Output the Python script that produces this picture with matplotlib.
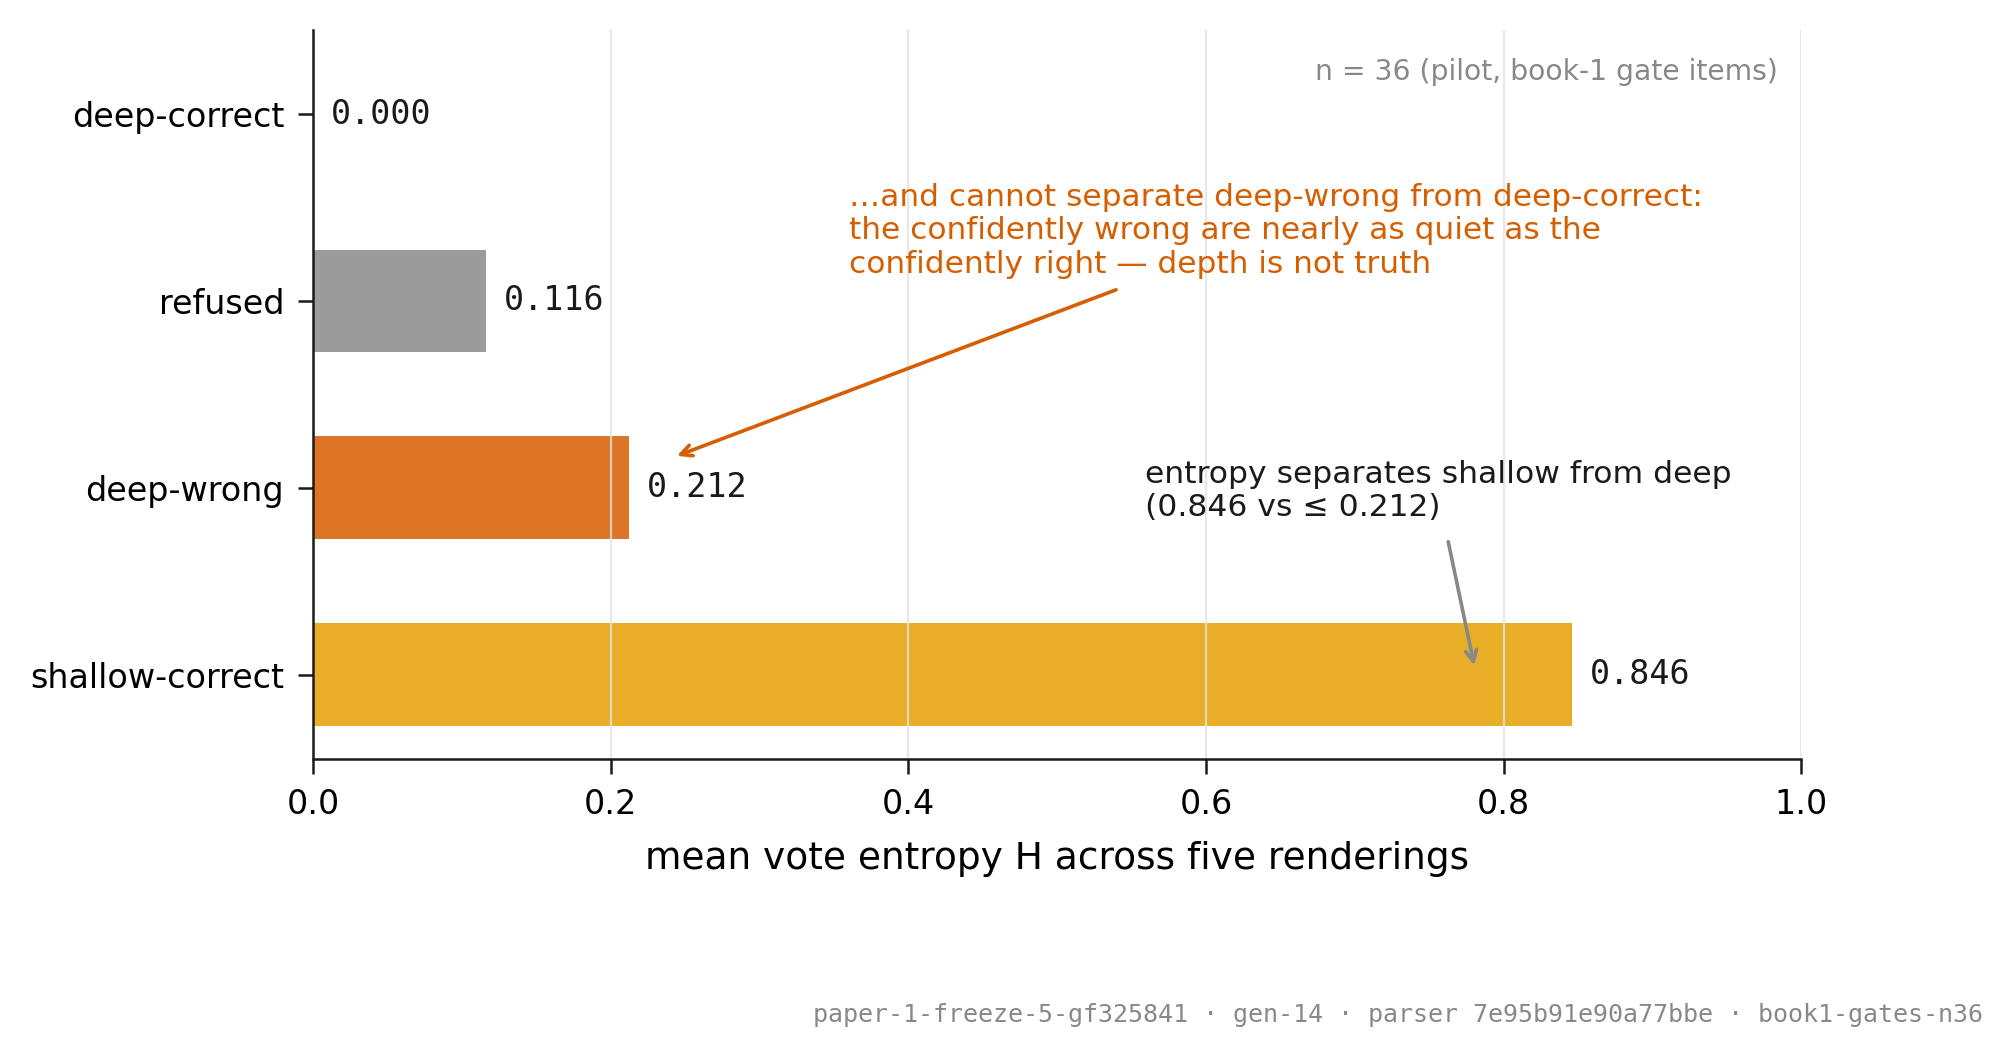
import matplotlib
matplotlib.use('Agg')
import matplotlib.pyplot as plt

# 数据
categories = ["shallow-correct", "deep-wrong", "refused", "deep-correct"]
entropy = [0.846, 0.212, 0.116, 0.000]
colors = ["#E8AE28", "#DC7626", "#9B9B9B", "#4C72B0"]
xticks = [0.0, 0.2, 0.4, 0.6, 0.8, 1.0]

note_orange = ("…and cannot separate deep-wrong from deep-correct:\n"
               "the confidently wrong are nearly as quiet as the\n"
               "confidently right — depth is not truth")
note_gray = "entropy separates shallow from deep\n(0.846 vs ≤ 0.212)"
n_note = "n = 36 (pilot, book-1 gate items)"
footer = "paper-1-freeze-5-gf325841 · gen-14 · parser 7e95b91e90a77bbe · book1-gates-n36"

plt.rcParams['font.family'] = ['DejaVu Sans']

fig = plt.figure(figsize=(10.065, 5.285), dpi=200)
ax = fig.add_axes([0.1556, 0.2819, 0.7392, 0.6901])

ypos = list(range(len(categories)))
ax.barh(ypos, entropy, height=0.55, color=colors, zorder=1)
ax.set_yticks(ypos)
ax.set_yticklabels(categories, fontsize=12)
ax.set_xlim(0, 1.0)
ax.set_xticks(xticks)
ax.set_xticklabels([f"{t:.1f}" for t in xticks], fontsize=12)
ax.set_xlabel("mean vote entropy H across five renderings", fontsize=13.5, labelpad=7)

ax.grid(axis='x', color='#e3e3e3', linewidth=0.8, alpha=0.8, zorder=2)
ax.set_axisbelow(False)
for s in ['top', 'right']:
    ax.spines[s].set_visible(False)
for s in ['left', 'bottom']:
    ax.spines[s].set_linewidth(0.9)
    ax.spines[s].set_color('#1a1a1a')
    ax.spines[s].set_zorder(5)
ax.tick_params(axis='both', length=5.5, width=0.9, pad=5, color='#1a1a1a')

for y, v in zip(ypos, entropy):
    ax.text(v + 0.012, y, f"{v:.3f}", va='center', ha='left',
            fontsize=12, family='DejaVu Sans Mono', color='#1a1a1a', zorder=3)

# 橙色注释
ax.text(0.36, 2.118, note_orange, color='#D55E00', fontsize=11.25, ha='left',
        va='bottom')
ax.annotate('', xy=(0.241, 1.16), xytext=(0.543, 2.07),
            arrowprops=dict(arrowstyle='->', color='#D55E00', lw=1.3))

# 灰色注释
ax.text(0.559, 0.814, note_gray, color='#1a1a1a', fontsize=11.3, ha='left',
        va='bottom')
ax.annotate('', xy=(0.781, 0.02), xytext=(0.762, 0.74),
            arrowprops=dict(arrowstyle='->', color='#888888', lw=1.3))

ax.text(0.984, 0.942, n_note, transform=ax.transAxes, ha='right', va='center',
        fontsize=10.2, color='#888888')

fig.text(0.985, 0.04, footer, ha='right', va='center', fontsize=9,
         family='DejaVu Sans Mono', color='#888888')

fig.savefig("out.png", dpi=200)
